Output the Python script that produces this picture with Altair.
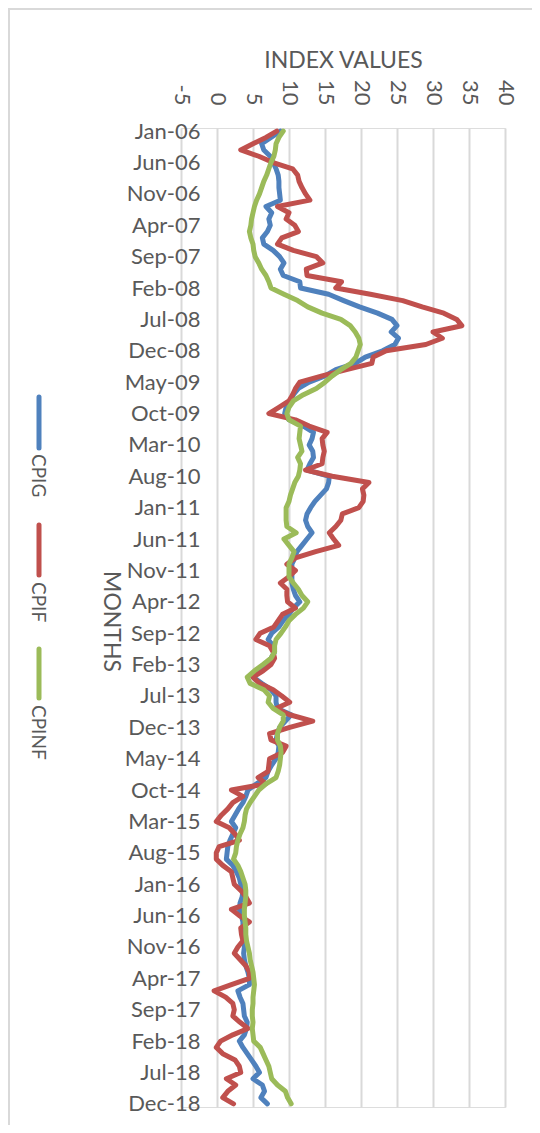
import altair as alt
import pandas as pd

# ---- data -------------------------------------------------------------
MONTHS = list(pd.date_range("2006-01-01", periods=156, freq="MS").strftime("%b-%y"))
MONTH_TICKS = MONTHS[::5]
X_TICKS = [-5, 0, 5, 10, 15, 20, 25, 30, 35, 40]
SERIES = ["CPIG", "CPIF", "CPINF"]
COLORS = ["#4F81BD", "#C0504D", "#9BBB59"]

CPIG = [8.8, 7.5, 6.2, 6.5, 7.4, 7.8, 8.2, 8.5, 8.6, 8.6,
        8.7, 8.8, 6.8, 7.6, 7.2, 7.4, 7.0, 6.3, 6.5, 7.8,
        8.7, 9.3, 8.8, 9.2, 11.5, 11.6, 15.5, 17.6, 19.8, 22.3,
        24.3, 25.0, 24.2, 25.2, 24.7, 23.0, 20.6, 19.2, 16.5, 15.0,
        12.8, 11.3, 10.6, 10.2, 9.6, 9.4, 10.0, 12.0, 13.4, 13.2,
        12.8, 13.3, 13.4, 12.9, 12.5, 15.6, 15.5, 15.2, 14.4, 13.6,
        13.0, 12.5, 12.3, 12.6, 13.2, 12.5, 11.8, 11.1, 10.8, 10.4,
        10.4, 10.4, 10.4, 10.6, 10.9, 11.5, 10.6, 10.0, 9.2, 8.6,
        7.6, 7.1, 7.8, 8.0, 7.5, 6.8, 5.8, 5.0, 6.2, 7.5,
        8.2, 8.2, 8.4, 10.3, 9.5, 8.7, 8.4, 8.2, 8.6, 8.5,
        8.2, 7.6, 7.1, 6.8, 5.5, 4.3, 4.0, 3.6, 3.0, 2.5,
        2.0, 2.6, 2.2, 1.8, 1.5, 1.4, 1.3, 2.2, 2.7, 3.1,
        3.3, 3.6, 3.5, 3.2, 3.1, 3.4, 3.6, 3.6, 3.8, 3.8,
        3.8, 3.7, 3.8, 4.0, 4.3, 4.5, 4.5, 2.9, 3.2, 3.6,
        3.7, 3.8, 4.2, 4.1, 3.8, 3.1, 3.6, 4.2, 4.8, 5.4,
        5.9, 5.0, 6.3, 6.6, 6.1, 7.0]

CPIF = [8.3, 6.8, 5.0, 3.3, 5.8, 7.8, 10.5, 11.2, 11.4, 11.8,
        12.3, 12.9, 8.4, 10.0, 9.6, 10.8, 11.3, 9.0, 8.4, 10.6,
        13.8, 14.7, 12.4, 12.5, 17.3, 16.5, 21.3, 25.8, 28.5, 31.5,
        33.3, 34.0, 30.0, 31.3, 29.0, 23.5, 21.7, 21.5, 18.0, 14.6,
        11.5, 10.9, 10.5, 10.0, 8.6, 7.2, 10.9, 12.8, 15.3, 14.6,
        14.7, 14.9, 14.7, 14.6, 12.3, 16.0, 21.1, 20.2, 20.4, 20.3,
        19.7, 17.4, 17.2, 16.5, 15.6, 16.2, 16.9, 13.7, 10.9, 9.7,
        10.9, 10.0, 8.8, 9.7, 9.7, 9.8, 10.9, 9.1, 8.5, 7.9,
        6.0, 5.4, 7.3, 7.8, 8.0, 7.5, 6.4, 5.0, 5.9, 7.8,
        9.0, 10.1, 8.2, 10.1, 13.3, 10.1, 7.3, 7.5, 9.6, 9.1,
        7.3, 7.2, 7.1, 5.7, 6.8, 2.0, 3.6, 2.2, 1.5, 0.6,
        -0.1, 1.7, 2.5, 3.1, 0.3, -0.1, -0.1, 0.8, 2.0, 2.2,
        2.4, 3.3, 4.0, 4.5, 2.0, 3.1, 4.5, 3.3, 3.4, 3.6,
        2.9, 2.4, 3.2, 4.0, 4.5, 4.5, 2.0, -0.4, 1.2, 2.2,
        2.4, 2.2, 3.2, 4.3, 2.2, 0.5, -0.1, 0.8, 2.5, 3.1,
        3.3, 1.3, 2.6, 1.5, 0.8, 2.3]

CPINF = [9.2, 8.6, 8.2, 8.1, 7.9, 7.5, 7.2, 6.9, 6.5, 6.2,
         5.9, 5.5, 5.2, 5.0, 4.8, 4.7, 4.5, 4.7, 5.0, 5.1,
         5.3, 5.8, 6.2, 6.8, 7.2, 7.5, 9.3, 11.2, 12.6, 14.6,
         17.2, 18.5, 19.2, 19.7, 19.9, 19.6, 19.3, 18.6, 17.2, 16.0,
         15.0, 13.8, 12.0, 10.6, 10.0, 9.7, 10.0, 11.6, 11.5, 11.4,
         11.6, 11.8, 11.2, 11.6, 11.5, 11.3, 10.8, 10.5, 10.2, 10.0,
         9.6, 9.6, 9.6, 9.7, 11.0, 9.3, 10.0, 10.7, 10.4, 10.0,
         10.0, 10.0, 10.6, 11.3, 11.8, 12.6, 12.0, 10.9, 10.0, 9.5,
         8.9, 8.2, 8.0, 8.0, 7.5, 6.4, 5.2, 4.2, 4.6, 6.5,
         7.3, 7.1, 7.8, 9.2, 9.2, 8.7, 8.4, 8.4, 8.8, 8.9,
         8.8, 8.7, 8.5, 8.2, 6.8, 5.8, 5.2, 4.6, 4.1, 3.9,
         3.8, 3.6, 3.2, 2.9, 2.7, 2.6, 2.3, 2.9, 3.3, 3.6,
         3.9, 4.0, 4.0, 3.9, 3.8, 3.8, 3.9, 4.0, 4.0, 4.1,
         4.3, 4.5, 4.6, 4.8, 5.0, 5.1, 5.2, 5.1, 5.0, 5.0,
         4.9, 4.9, 5.0, 4.9, 5.0, 5.1, 6.0, 6.4, 6.8, 7.2,
         7.4, 7.6, 8.4, 9.5, 9.8, 10.3]

# ---- long table -------------------------------------------------------
rows = []
for name, vals in zip(SERIES, [CPIG, CPIF, CPINF]):
    for m, v in zip(MONTHS, vals):
        rows.append({"month": m, "value": v, "series": name})
df = pd.DataFrame(rows)

FONT = "Lato"
GREY = "#595959"

x_enc = alt.X(
    "value:Q",
    scale=alt.Scale(domain=[-5, 40], nice=False, zero=False),
    axis=alt.Axis(
        orient="top", values=X_TICKS, grid=True, gridColor="#D9D9D9", gridWidth=2,
        domain=False, ticks=False, tickSize=0, labelAngle=90, labelAlign="right",
        labelBaseline="middle", labelPadding=23, labelFont=FONT, labelFontSize=22,
        labelColor=GREY, labelExpr="replace(datum.label, '\u2212', '-')",
        title="INDEX VALUES", titleFont=FONT, titleFontSize=23,
        titleFontWeight="normal", titleColor=GREY, titleX=162, titleY=-61,
        titleAlign="center", titleBaseline="alphabetic", titleAngle=0,
    ),
)
y_enc = alt.Y(
    "month:O",
    sort=MONTHS,
    scale=alt.Scale(domain=MONTHS, padding=0.5),
    axis=alt.Axis(
        orient="left", values=MONTH_TICKS, offset=-36, grid=False, domain=False,
        ticks=False, tickSize=0, labelPadding=17, labelFont=FONT, labelFontSize=22,
        labelColor=GREY, labelAlign="right", labelBaseline="middle",
        title="MONTHS", titleFont=FONT, titleFontSize=23, titleFontWeight="normal",
        titleColor=GREY, titleAngle=90, titleX=-107, titleY=493,
        titleAlign="center", titleBaseline="middle",
    ),
)
color_enc = alt.Color("series:N", scale=alt.Scale(domain=SERIES, range=COLORS), legend=None)

layers = []
for name in SERIES:
    layers.append(
        alt.Chart(df)
        .transform_filter(alt.datum.series == name)
        .mark_line(strokeWidth=5, strokeJoin="round", strokeCap="round")
        .encode(x=x_enc, y=y_enc, color=color_enc, order=alt.Order("idx:Q"))
        .transform_window(idx="row_number()")
    )

# manual rotated legend
LEG_RULE_Y = [(269, 320), (397, 447), (521, 570)]
LEG_TEXT_Y = [326, 454, 577]
for name, col, (y1, y2), ty in zip(SERIES, COLORS, LEG_RULE_Y, LEG_TEXT_Y):
    layers.append(
        alt.Chart(df).mark_rule(color=col, strokeWidth=5, strokeCap="round")
        .encode(x=alt.value(-142), y=alt.value(y1), y2=alt.value(y2))
        .transform_filter(alt.datum.month == MONTHS[0]).transform_filter(alt.datum.series == name)
    )
    layers.append(
        alt.Chart(df).mark_text(text=name, angle=90, align="left", baseline="middle",
                                font=FONT, fontSize=19, color=GREY)
        .encode(x=alt.value(-143), y=alt.value(ty))
        .transform_filter(alt.datum.month == MONTHS[0]).transform_filter(alt.datum.series == name)
    )

# chart-area border
layers.insert(0,
    alt.Chart(df).mark_rect(fill="transparent", stroke="#D9D9D9", strokeWidth=2)
    .encode(x=alt.value(-172), x2=alt.value(352), y=alt.value(-119), y2=alt.value(1010))
    .transform_filter(alt.datum.month == MONTHS[0]).transform_filter(alt.datum.series == SERIES[0])
)

chart = (
    alt.layer(*layers)
    .properties(width=324, height=979,
                autosize=alt.AutoSizeParams(type="none"),
                padding={"left": 173, "top": 120, "right": 27, "bottom": 18})
    .configure_view(stroke=None)
    .configure(background="white")
)

chart.save("out.html", embed_options={"renderer": "svg", "actions": False})
